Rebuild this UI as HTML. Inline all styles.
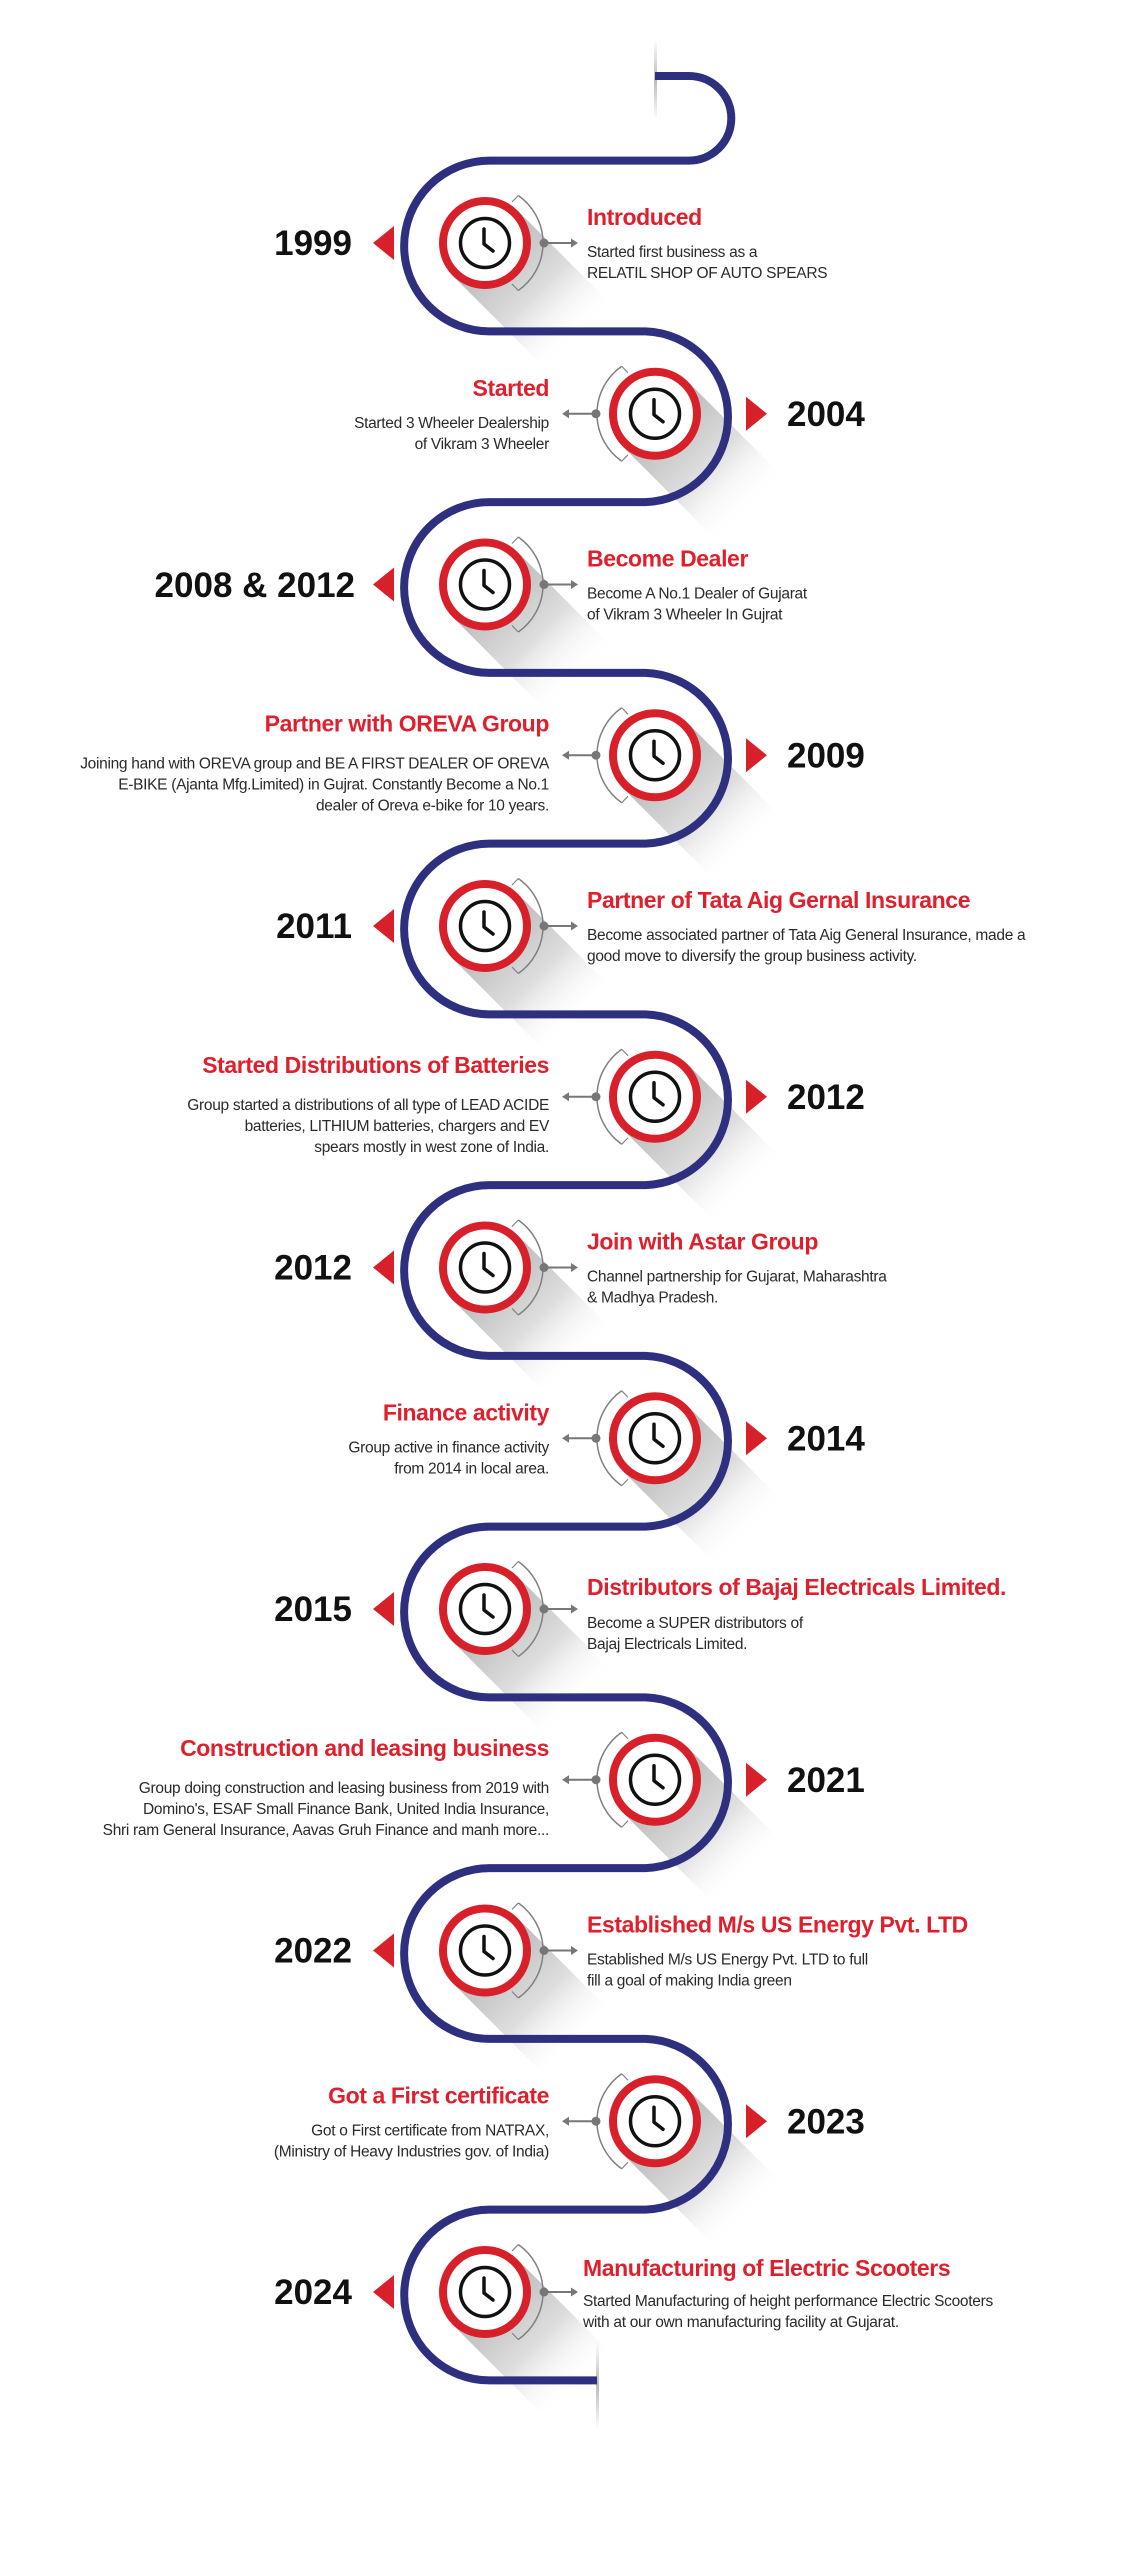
<!DOCTYPE html>
<html><head><meta charset="utf-8">
<style>
html,body{margin:0;padding:0;background:#fff;}
svg{display:block;}
.yr{font-family:"Liberation Sans",sans-serif;font-weight:bold;font-size:35px;fill:#111;}
.hd{font-family:"Liberation Sans",sans-serif;font-weight:bold;font-size:23px;fill:#e01f2d;letter-spacing:-0.4px;}
.bd{font-family:"Liberation Sans",sans-serif;font-size:15.5px;fill:#2a2a2a;letter-spacing:-0.3px;}
</style></head>
<body>
<svg width="1122" height="2560" viewBox="0 0 1122 2560" xmlns="http://www.w3.org/2000/svg">
<defs>
  <linearGradient id="sg" gradientUnits="userSpaceOnUse" x1="0" y1="0" x2="95" y2="95">
    <stop offset="0" stop-color="#b8b8b8"/>
    <stop offset="0.55" stop-color="#dedede"/>
    <stop offset="1" stop-color="#ffffff" stop-opacity="0"/>
  </linearGradient>
  <linearGradient id="vg" x1="0" y1="0" x2="0" y2="1">
    <stop offset="0" stop-color="#fff"/>
    <stop offset="0.5" stop-color="#bbb"/>
    <stop offset="1" stop-color="#fff"/>
  </linearGradient>
  <g id="shadow">
    <polygon points="32.5,-32.5 125,60 60,125 -32.5,32.5" fill="url(#sg)"/>
  </g>
  <g id="node">
    <circle r="42" fill="#fff" stroke="#d7202a" stroke-width="8"/>
    <circle r="24.5" fill="none" stroke="#111" stroke-width="3.5"/>
    <polyline points="-1,-14 -1,1 8,8" fill="none" stroke="#111" stroke-width="3.5" stroke-linecap="round" stroke-linejoin="round"/>
  </g>
  <g id="conn">
    <path d="M33.3,-47.5 A58,58 0 0 1 33.3,47.5" fill="none" stroke="#808080" stroke-width="1.5"/>
    <line x1="33.3" y1="-47.5" x2="27" y2="-41" stroke="#808080" stroke-width="1.2"/>
    <line x1="33.3" y1="47.5" x2="27" y2="41" stroke="#808080" stroke-width="1.2"/>
    <circle cx="59" cy="0" r="4.5" fill="#777"/>
    <line x1="59" y1="0" x2="87" y2="0" stroke="#777" stroke-width="2"/>
    <polygon points="86,-4.5 93,0 86,4.5" fill="#777"/>
  </g>
  <g id="L"><use href="#conn"/><polygon points="-112,0 -91,-17 -91,17" fill="#d7202a"/></g>
  <g id="R"><use href="#conn" transform="scale(-1,1)"/><polygon points="112,0 91,-17 91,17" fill="#d7202a"/></g>
</defs>

<rect x="654" y="40" width="3" height="80" fill="url(#vg)"/>
<rect x="596" y="2340" width="3" height="90" fill="url(#vg)"/>

<use href="#shadow" x="485" y="243"/>
<use href="#shadow" x="655" y="413.75"/>
<use href="#shadow" x="485" y="584.5"/>
<use href="#shadow" x="655" y="755.25"/>
<use href="#shadow" x="485" y="926"/>
<use href="#shadow" x="655" y="1096.75"/>
<use href="#shadow" x="485" y="1267.5"/>
<use href="#shadow" x="655" y="1438.25"/>
<use href="#shadow" x="485" y="1609"/>
<use href="#shadow" x="655" y="1779.75"/>
<use href="#shadow" x="485" y="1950.5"/>
<use href="#shadow" x="655" y="2121.25"/>
<use href="#shadow" x="485" y="2292"/>

<path fill="none" stroke="#2e2f7f" stroke-width="8" d="M655,76 H689 A42.3,42.3 0 0 1 689,160.6
H489.5 A85.4,85.4 0 0 0 489.5,331.4
H645.5 A85.4,85.4 0 0 1 645.5,502.1
H489.5 A85.4,85.4 0 0 0 489.5,672.9
H645.5 A85.4,85.4 0 0 1 645.5,843.6
H489.5 A85.4,85.4 0 0 0 489.5,1014.4
H645.5 A85.4,85.4 0 0 1 645.5,1185.1
H489.5 A85.4,85.4 0 0 0 489.5,1355.9
H645.5 A85.4,85.4 0 0 1 645.5,1526.6
H489.5 A85.4,85.4 0 0 0 489.5,1697.4
H645.5 A85.4,85.4 0 0 1 645.5,1868.1
H489.5 A85.4,85.4 0 0 0 489.5,2038.9
H645.5 A85.4,85.4 0 0 1 645.5,2209.6
H489.5 A85.4,85.4 0 0 0 489.5,2380.4 H597"/>

<g transform="translate(485,243)"><use href="#L"/><use href="#node"/></g>
<g transform="translate(655,413.75)"><use href="#R"/><use href="#node"/></g>
<g transform="translate(485,584.5)"><use href="#L"/><use href="#node"/></g>
<g transform="translate(655,755.25)"><use href="#R"/><use href="#node"/></g>
<g transform="translate(485,926)"><use href="#L"/><use href="#node"/></g>
<g transform="translate(655,1096.75)"><use href="#R"/><use href="#node"/></g>
<g transform="translate(485,1267.5)"><use href="#L"/><use href="#node"/></g>
<g transform="translate(655,1438.25)"><use href="#R"/><use href="#node"/></g>
<g transform="translate(485,1609)"><use href="#L"/><use href="#node"/></g>
<g transform="translate(655,1779.75)"><use href="#R"/><use href="#node"/></g>
<g transform="translate(485,1950.5)"><use href="#L"/><use href="#node"/></g>
<g transform="translate(655,2121.25)"><use href="#R"/><use href="#node"/></g>
<g transform="translate(485,2292)"><use href="#L"/><use href="#node"/></g>

<text class="yr" x="352" y="255" text-anchor="end">1999</text>
<text class="hd" x="587" y="225">Introduced</text>
<text class="bd" x="587" y="257">Started first business as a</text>
<text class="bd" x="587" y="278">RELATIL SHOP OF AUTO SPEARS</text>

<text class="yr" x="787" y="426">2004</text>
<text class="hd" x="549" y="395.75" text-anchor="end">Started</text>
<text class="bd" x="549" y="427.75" text-anchor="end">Started 3 Wheeler Dealership</text>
<text class="bd" x="549" y="448.75" text-anchor="end">of Vikram 3 Wheeler</text>

<text class="yr" x="355" y="597" text-anchor="end">2008 &amp; 2012</text>
<text class="hd" x="587" y="566.5">Become Dealer</text>
<text class="bd" x="587" y="598.5">Become A No.1 Dealer of Gujarat</text>
<text class="bd" x="587" y="619.5">of Vikram 3 Wheeler In Gujrat</text>

<text class="yr" x="787" y="767.5">2009</text>
<text class="hd" x="549" y="731.25" text-anchor="end">Partner with OREVA Group</text>
<text class="bd" x="549" y="768.25" text-anchor="end">Joining hand with OREVA group and BE A FIRST DEALER OF OREVA</text>
<text class="bd" x="549" y="789.25" text-anchor="end">E-BIKE (Ajanta Mfg.Limited) in Gujrat. Constantly Become a No.1</text>
<text class="bd" x="549" y="810.25" text-anchor="end">dealer of Oreva e-bike for 10 years.</text>

<text class="yr" x="352" y="938" text-anchor="end">2011</text>
<text class="hd" x="587" y="908">Partner of Tata Aig Gernal Insurance</text>
<text class="bd" x="587" y="940">Become associated partner of Tata Aig General Insurance, made a</text>
<text class="bd" x="587" y="961">good move to diversify the group business activity.</text>

<text class="yr" x="787" y="1109">2012</text>
<text class="hd" x="549" y="1072.75" text-anchor="end">Started Distributions of Batteries</text>
<text class="bd" x="549" y="1109.75" text-anchor="end">Group started a distributions of all type of LEAD ACIDE</text>
<text class="bd" x="549" y="1130.75" text-anchor="end">batteries, LITHIUM batteries, chargers and EV</text>
<text class="bd" x="549" y="1151.75" text-anchor="end">spears mostly in west zone of India.</text>

<text class="yr" x="352" y="1279.5" text-anchor="end">2012</text>
<text class="hd" x="587" y="1249.5">Join with Astar Group</text>
<text class="bd" x="587" y="1281.5">Channel partnership for Gujarat, Maharashtra</text>
<text class="bd" x="587" y="1302.5">&amp; Madhya Pradesh.</text>

<text class="yr" x="787" y="1450.5">2014</text>
<text class="hd" x="549" y="1420.25" text-anchor="end">Finance activity</text>
<text class="bd" x="549" y="1452.25" text-anchor="end">Group active in finance activity</text>
<text class="bd" x="549" y="1473.25" text-anchor="end">from 2014 in local area.</text>

<text class="yr" x="352" y="1621" text-anchor="end">2015</text>
<text class="hd" x="587" y="1595">Distributors of Bajaj Electricals Limited.</text>
<text class="bd" x="587" y="1628">Become a SUPER distributors of</text>
<text class="bd" x="587" y="1649">Bajaj Electricals Limited.</text>

<text class="yr" x="787" y="1792">2021</text>
<text class="hd" x="549" y="1755.75" text-anchor="end">Construction and leasing business</text>
<text class="bd" x="549" y="1792.75" text-anchor="end">Group doing construction and leasing business from 2019 with</text>
<text class="bd" x="549" y="1813.75" text-anchor="end">Domino's, ESAF Small Finance Bank, United India Insurance,</text>
<text class="bd" x="549" y="1834.75" text-anchor="end">Shri ram General Insurance, Aavas Gruh Finance and manh more...</text>

<text class="yr" x="352" y="1962.5" text-anchor="end">2022</text>
<text class="hd" x="587" y="1932.5">Established M/s US Energy Pvt. LTD</text>
<text class="bd" x="587" y="1964.5">Established M/s US Energy Pvt. LTD to full</text>
<text class="bd" x="587" y="1985.5">fill a goal of making India green</text>

<text class="yr" x="787" y="2133.5">2023</text>
<text class="hd" x="549" y="2103.25" text-anchor="end">Got a First certificate</text>
<text class="bd" x="549" y="2135.25" text-anchor="end">Got o First certificate from NATRAX,</text>
<text class="bd" x="549" y="2156.25" text-anchor="end">(Ministry of Heavy Industries gov. of India)</text>

<text class="yr" x="352" y="2304" text-anchor="end">2024</text>
<text class="hd" x="583" y="2276">Manufacturing of Electric Scooters</text>
<text class="bd" x="583" y="2306">Started Manufacturing of height performance Electric Scooters</text>
<text class="bd" x="583" y="2327">with at our own manufacturing facility at Gujarat.</text>
</svg>
</body></html>
